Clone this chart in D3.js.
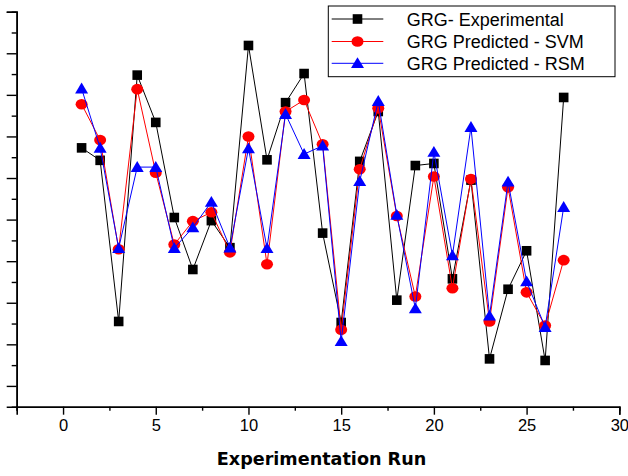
<!DOCTYPE html>
<html>
<head>
<meta charset="utf-8">
<script src="https://cdn.jsdelivr.net/npm/d3@7"></script>
<style>
body { margin: 0; background: #fff; }
svg { display: block; }
</style>
</head>
<body>
<svg id="chart" width="628" height="476"></svg>
<script>
// experimentation runs 1..27
var runs = d3.range(1, 28);

var grgExperimental = [0.698, 0.674, 0.364, 0.838, 0.747, 0.564, 0.464, 0.558, 0.506, 0.895,
	0.675, 0.785, 0.841, 0.534, 0.362, 0.672, 0.768, 0.405, 0.664, 0.668,
	0.446, 0.636, 0.292, 0.426, 0.500, 0.289, 0.795];

var grgSVM = [0.782, 0.713, 0.503, 0.811, 0.650, 0.512, 0.557, 0.574, 0.497, 0.720,
	0.474, 0.768, 0.790, 0.705, 0.348, 0.657, 0.774, 0.567, 0.412, 0.643,
	0.428, 0.638, 0.364, 0.622, 0.420, 0.356, 0.482];

var grgRSM = [0.812, 0.698, 0.505, 0.661, 0.661, 0.505, 0.545, 0.594, 0.506, 0.697,
	0.505, 0.763, 0.686, 0.702, 0.326, 0.634, 0.788, 0.569, 0.389, 0.690,
	0.491, 0.738, 0.375, 0.633, 0.441, 0.353, 0.584];

var seriesNames = ["GRG- Experimental", "GRG Predicted - SVM", "GRG Predicted - RSM"];
var xMajorTicks = [0, 5, 10, 15, 20, 25, 30];
var xMinorTicks = [-2.5, 2.5, 7.5, 12.5, 17.5, 22.5, 27.5];
var yMajorTicks = [0.24, 0.32, 0.40, 0.48, 0.56, 0.64, 0.72, 0.80, 0.88, 0.96];
var yMinorTicks = [0.28, 0.36, 0.44, 0.52, 0.60, 0.68, 0.76, 0.84, 0.92];
var xTitle = "Experimentation Run";

var svg = d3.select("#chart");

var xScale = d3.scaleLinear().domain([-2.5, 30]).range([16.7, 619.3]);
var yScale = d3.scaleLinear().domain([0.2, 0.96]).range([406.7, 11.7]);

var series = [
	{name: seriesNames[0], values: grgExperimental, color: "#000000", symbol: "square"},
	{name: seriesNames[1], values: grgSVM, color: "#ff0000", symbol: "circle"},
	{name: seriesNames[2], values: grgRSM, color: "#0000ff", symbol: "triangle"}
];

function drawSymbol(sel, symbol, color)
{
	if(symbol == "square")
	{
		sel.append("rect")
			.attr("x", -4.8).attr("y", -4.8)
			.attr("width", 9.6).attr("height", 9.6)
			.attr("fill", color);
	}
	else if(symbol == "circle")
	{
		sel.append("ellipse")
			.attr("rx", 6).attr("ry", 5.3)
			.attr("fill", color);
	}
	else
	{
		sel.append("path")
			.attr("d", "M0,-6L6.5,4.8L-6.5,4.8Z")
			.attr("fill", color);
	}
}

// axes
var xAxisMinor = d3.axisBottom(xScale).tickValues(xMinorTicks).tickSize(4).tickFormat("");
var xAxis = d3.axisBottom(xScale).tickValues(xMajorTicks).tickSize(8).tickPadding(5)
	.tickFormat(d3.format("d"));
var yAxisMinor = d3.axisLeft(yScale).tickValues(yMinorTicks).tickSize(5).tickFormat("");
var yAxis = d3.axisLeft(yScale).tickValues(yMajorTicks).tickSize(10).tickFormat("");

svg.append("g").attr("transform", "translate(0,406.7)").call(xAxisMinor);
var gx = svg.append("g").attr("transform", "translate(0,406.7)").call(xAxis);
svg.append("g").attr("transform", "translate(16.7,0)").call(yAxisMinor);
svg.append("g").attr("transform", "translate(16.7,0)").call(yAxis);

svg.selectAll(".domain").attr("stroke", "#000").attr("stroke-width", 1.6);
svg.selectAll(".tick line").attr("stroke", "#000").attr("stroke-width", 1.4);
gx.selectAll(".tick text")
	.attr("fill", "#000")
	.style("font-family", "'Liberation Sans', Arial, sans-serif")
	.style("font-size", "16.5px");

svg.append("text")
	.attr("x", 321.5)
	.attr("y", 465)
	.attr("text-anchor", "middle")
	.style("font-family", "'DejaVu Sans', sans-serif")
	.style("font-weight", "bold")
	.style("font-size", "17.6px")
	.text(xTitle);

// series: line then symbols, drawn in order
var line = d3.line()
	.x(function(d, i){ return xScale(runs[i]); })
	.y(function(d){ return yScale(d); });

for(var s = 0; s < series.length; s++)
{
	var ser = series[s];
	svg.append("path")
		.attr("d", line(ser.values))
		.attr("fill", "none")
		.attr("stroke", ser.color)
		.attr("stroke-width", 1);

	var marks = svg.append("g").selectAll("g")
		.data(ser.values).enter()
		.append("g")
		.attr("transform", function(d, i){
			return "translate(" + xScale(runs[i]) + "," + yScale(d) + ")";
		});
	drawSymbol(marks, ser.symbol, ser.color);
}

// legend
var legend = svg.append("g");
legend.append("rect")
	.attr("x", 328.3).attr("y", 6)
	.attr("width", 286.7).attr("height", 70.7)
	.attr("fill", "#fff")
	.attr("stroke", "#000")
	.attr("stroke-width", 1);

var rowY = [19, 41.5, 63.3];
for(var r = 0; r < series.length; r++)
{
	var row = legend.append("g").attr("transform", "translate(0," + rowY[r] + ")");
	row.append("line")
		.attr("x1", 331.7).attr("x2", 383.3)
		.attr("stroke", series[r].color)
		.attr("stroke-width", 1);
	var sym = row.append("g").attr("transform", "translate(357.5,0)");
	drawSymbol(sym, series[r].symbol, series[r].color);
	row.append("text")
		.attr("x", 406.7)
		.attr("y", 6.5)
		.style("font-family", "'Liberation Sans', Arial, sans-serif")
		.style("font-size", "18px")
		.text(series[r].name);
}
</script>
</body>
</html>
